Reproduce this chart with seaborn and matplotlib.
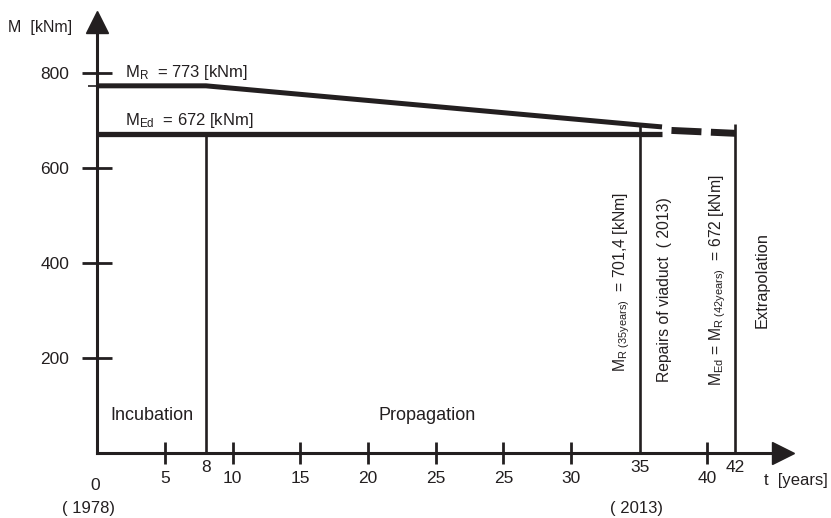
import matplotlib
matplotlib.use("Agg")
import matplotlib.pyplot as plt
from matplotlib import font_manager
import seaborn as sns
import pandas as pd

# ---------------- data ----------------
# x positions are in chart position units (evenly spaced tick grid of the original drawing)
x_tick_pos = [5, 10, 15, 20, 25, 30, 35, 45]
x_tick_labels = ["5", "10", "15", "20", "25", "25", "30", "40"]
y_tick_pos = [200, 400, 600, 800]
y_tick_labels = ["200", "400", "600", "800"]

event_pos = [8.04, 40.07, 47.1]          # incubation end, repair (35), extrapolation (42)
event_labels = ["8", "35", "42"]

mr_x = [0, 8.04, 40.07, 41.7]             # resistance moment M_R
mr_y = [773, 773, 690.5, 686.5]
med_x = [0, 41.7]                         # design moment M_Ed
med_y = [672, 672]
extrap_x = [41.7, 47.1]                   # dashed extrapolation
extrap_y = [680, 673]

event_top = [672, 690.5, 693]             # upper ends of vertical event lines

# ---------------- style ----------------
sns.set_style("white")
plt.rcParams["lines.scale_dashes"] = False


def pick_font():
    for f in ["Liberation Sans Narrow", "Liberation Sans"]:
        try:
            font_manager.findfont(f, fallback_to_default=False)
            return f
        except Exception:
            pass
    return "DejaVu Sans"


main_font = pick_font()
plt.rcParams["font.family"] = [main_font, "DejaVu Sans"]
plt.rcParams["mathtext.default"] = "regular"
narrow = main_font == "Liberation Sans Narrow"
FS_TICK = 14 if narrow else 12.5
FS_LAB = 13.5 if narrow else 12
FS_PHASE = 14 if narrow else 13
FS_ROT = 13 if narrow else 11.3
INK = "#231f20"

fig = plt.figure(figsize=(8.31, 5.18), dpi=100)
ax = fig.add_axes([0, 0, 1, 1])
ax.set_xlim(-97 / 13.55, (831 - 97) / 13.55)
ax.set_ylim(-65 / 0.475, (518 - 65) / 0.475)

# lines
df_mr = pd.DataFrame({"t": mr_x, "M": mr_y})
df_med = pd.DataFrame({"t": med_x, "M": med_y})
sns.lineplot(data=df_mr, x="t", y="M", ax=ax, color=INK, lw=3.6, sort=False,
             solid_capstyle="butt")
sns.lineplot(data=df_med, x="t", y="M", ax=ax, color=INK, lw=3.8, sort=False,
             solid_capstyle="butt")
ax.plot(extrap_x, extrap_y, color=INK, lw=5.0,
        linestyle=(21.6, (21.6, 6.8)), solid_capstyle="butt", dash_capstyle="butt")

for xp, top in zip(event_pos, event_top):
    ax.plot([xp, xp], [0, top], color=INK, lw=1.9, solid_capstyle="butt")

# axes (spines at origin)
for s in ["top", "right"]:
    ax.spines[s].set_visible(False)
ax.spines["left"].set_position(("data", 0))
ax.spines["bottom"].set_position(("data", 0))
y_tip = (453 - 22) / 0.475
x_tip = (783 - 97) / 13.55
ax.spines["left"].set_bounds(0, y_tip)
ax.spines["bottom"].set_bounds(0, x_tip)
for s in ["left", "bottom"]:
    ax.spines[s].set_linewidth(2.2)
    ax.spines[s].set_color(INK)
ax.plot([0], [y_tip], marker="^", ms=16, color=INK, mec=INK, clip_on=False)
ax.plot([x_tip], [0], marker=">", ms=16, color=INK, mec=INK, clip_on=False)

ax.set_xticks(x_tick_pos, x_tick_labels)
ax.set_yticks(y_tick_pos, y_tick_labels)
ax.set_yticks([mr_y[0]], minor=True)
ax.tick_params(axis="x", which="major", direction="inout", length=16.5, width=2.0,
               color=INK, labelsize=FS_TICK, labelcolor=INK, pad=5, bottom=True)
ax.tick_params(axis="y", which="major", direction="inout", length=21.6, width=2.0,
               color=INK, labelsize=FS_TICK, labelcolor=INK, pad=9, left=True)
ax.tick_params(axis="y", which="minor", direction="out", length=6.5, width=1.2,
               color=INK, left=True)
ax.set_xlabel("")
ax.set_ylabel("")
ax.grid(False)

# event labels on x axis
for xp, lab in zip(event_pos, event_labels):
    ax.text(xp, -29.5, lab, ha="center", va="center", fontsize=FS_TICK, color=INK)
ax.text(-0.15, -68, "0", ha="center", va="center", fontsize=FS_TICK, color=INK)
ax.text(-0.6, -116, "( 1978)", ha="center", va="center", fontsize=FS_LAB, color=INK)
ax.text(39.8, -116, "( 2013)", ha="center", va="center", fontsize=FS_LAB, color=INK)
ax.text(49.2, -57, "t  [years]", ha="left", va="center", fontsize=FS_LAB, color=INK)
ax.text(-6.6, 895, "M  [kNm]", ha="left", va="center", fontsize=FS_LAB - 0.5, color=INK)

# line labels
ax.text(2.07, 802, r"M$_{R}$  = 773 [kNm]", ha="left", va="center", fontsize=FS_LAB, color=INK)
ax.text(2.07, 701, r"M$_{Ed}$  = 672 [kNm]", ha="left", va="center", fontsize=FS_LAB, color=INK)

# phase labels
ax.text(4.06, 80, "Incubation", ha="center", va="center", fontsize=FS_PHASE, color=INK)
ax.text(24.4, 80, "Propagation", ha="center", va="center", fontsize=FS_PHASE, color=INK)

# rotated annotations
ax.text(38.75, 360, r"M$_{R\ (35 years)}$  = 701,4 [kNm]", rotation=90,
        ha="center", va="center", fontsize=FS_ROT, color=INK)
ax.text(41.9, 344, "Repairs of viaduct  ( 2013)", rotation=90,
        ha="center", va="center", fontsize=FS_ROT, color=INK)
ax.text(45.8, 364, r"M$_{Ed}$ = M$_{R\ (42 years)}$  = 672 [kNm]", rotation=90,
        ha="center", va="center", fontsize=FS_ROT, color=INK)
ax.text(49.1, 364, "Extrapolation", rotation=90,
        ha="center", va="center", fontsize=FS_ROT + 0.5, color=INK)

fig.savefig("out.png", dpi=100, facecolor="white")
